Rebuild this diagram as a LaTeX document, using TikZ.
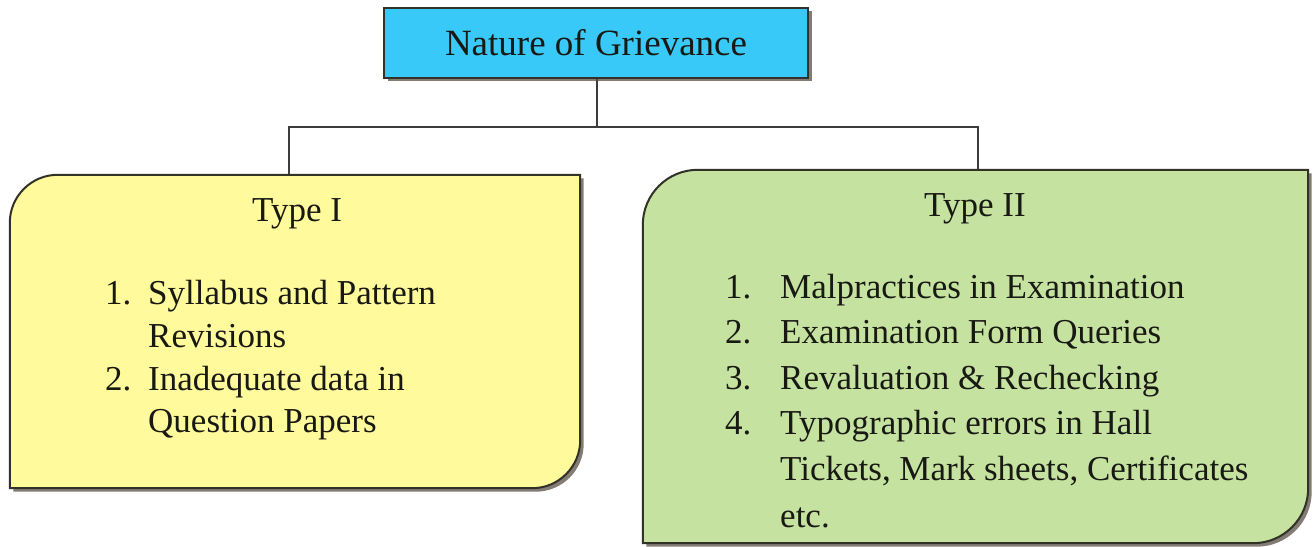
\documentclass[tikz,border=0pt]{standalone}
\usepackage{fontspec}
\setmainfont{Liberation Serif}
\definecolor{bluef}{RGB}{56,201,248}
\definecolor{yelf}{RGB}{255,250,155}
\definecolor{grnf}{RGB}{197,226,160}
\definecolor{edgec}{RGB}{50,50,40}
\definecolor{connc}{RGB}{60,60,60}
\definecolor{shadowc}{RGB}{90,80,70}
\definecolor{textc}{RGB}{25,25,20}
\newcommand\tlbrbox[3]{%
  \path[draw=edgec, line width=2pt, fill=#3,
        preaction={fill=shadowc, fill opacity=0.75, transform canvas={shift={(3.5pt,-3.5pt)}}}]
    (#1.south west) -- ([yshift=-#2]#1.north west)
    arc[start angle=180,end angle=90,radius=#2]
    -- (#1.north east) -- ([yshift=#2]#1.south east)
    arc[start angle=0,end angle=-90,radius=#2] -- cycle;}
\begin{document}
\begin{tikzpicture}[x=1pt,y=1pt,
  frame/.style={rectangle, inner sep=0pt, draw=none},
  topbox/.style={rectangle, draw=edgec, line width=2pt, fill=bluef, inner sep=0pt,
    font=\fontsize{37}{42}\selectfont, text=textc,
    preaction={fill=shadowc, fill opacity=0.75, transform canvas={shift={(3.5pt,-3.5pt)}}}},
  conn/.style={draw=connc, line width=2.8pt},
  txt/.style={font=\fontsize{35}{42}\selectfont, text=textc, inner sep=0pt, anchor=base west},
  head/.style={font=\fontsize{35}{42}\selectfont, text=textc, inner sep=0pt, anchor=base}]
\useasboundingbox (0,0) rectangle (1314,546);
% frames of the two boxes
\node[frame, minimum width=570pt, minimum height=313pt] (t1) at (295,214.5) {};
\node[frame, minimum width=665pt, minimum height=373pt] (t2) at (975.5,189.5) {};
\coordinate (bar) at (597,419);
% connectors
\draw[conn] (597,468) -- (bar);
\draw[conn] ([xshift=-6pt]t1.north) |- (bar) -| ([xshift=2.5pt]t2.north);
% boxes
\node[topbox, minimum width=424pt, minimum height=70pt] (top) at (596,503) {Nature of Grievance};
\tlbrbox{t1}{48pt}{yelf}
\tlbrbox{t2}{55pt}{grnf}
% Type I
\node[head] (h1) at (297,324) {Type I};
\node[txt] (a1) at (105,241) {1.};
\node[txt] (a1t) at (148,241) {Syllabus and Pattern};
\node[txt] (a1u) at (148,198) {Revisions};
\node[txt] (a2) at (105,155) {2.};
\node[txt] (a2t) at (148,155) {Inadequate data in};
\node[txt] (a2u) at (148,113) {Question Papers};
% Type II
\node[head] (h2) at (975,329) {Type II};
\node[txt] (b1) at (725,247) {1.};
\node[txt] (b1t) at (780,247) {Malpractices in Examination};
\node[txt] (b2) at (725,202) {2.};
\node[txt] (b2t) at (780,202) {Examination Form Queries};
\node[txt] (b3) at (725,156) {3.};
\node[txt] (b3t) at (780,156) {Revaluation \& Rechecking};
\node[txt] (b4) at (725,111) {4.};
\node[txt] (b4t) at (780,111) {Typographic errors in Hall};
\node[txt] (b4u) at (780,65) {Tickets, Mark sheets, Certificates};
\node[txt] (b4v) at (780,19) {etc.};
\end{tikzpicture}
\end{document}
